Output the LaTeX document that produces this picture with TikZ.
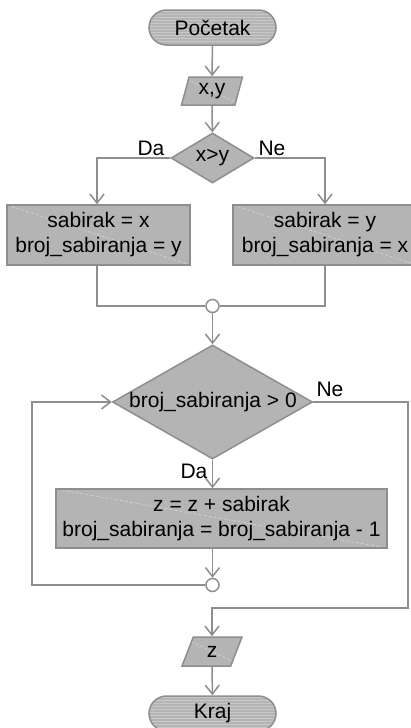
\documentclass[tikz,border=0pt]{standalone}
\usepackage{fontspec}
\setmainfont{Liberation Sans}
\usetikzlibrary{shapes.geometric,arrows.meta,calc}
\definecolor{boxfill}{HTML}{B4B4B4}
\definecolor{edge}{HTML}{8E8E8E}
\definecolor{stripe}{HTML}{C8C8C8}

\begin{document}
\begin{tikzpicture}[x=1pt,y=-1pt,
  font=\fontsize{21}{25}\selectfont,
  base/.style={draw=edge, fill=boxfill, line width=1.5pt, inner sep=0pt, text=black},
  diag/.style={path picture={\draw[white,opacity=0.45,line width=0.6pt,dash pattern=on 3pt off 2pt]
      (path picture bounding box.north west) -- (path picture bounding box.south east);}},
  stripes/.style={path picture={\foreach \k in {1,4,...,40}{\draw[stripe,line width=0.9pt]
      ([yshift=-\k pt]path picture bounding box.north west) -- ([yshift=-\k pt]path picture bounding box.north east);}}},
  term/.style={base, rectangle, rounded corners=17.5pt, stripes, minimum width=127pt, minimum height=35pt},
  io/.style={base, trapezium, trapezium left angle=74, trapezium right angle=106,
      trapezium stretches=true, diag},
  process/.style={base, rectangle, align=center, diag},
  decision/.style={base, diamond},
  junc/.style={circle, draw=edge, fill=white, line width=1.5pt, minimum size=13pt, inner sep=0pt},
  lbl/.style={text=black},
  line/.style={draw=edge, line width=1.5pt},
  flow/.style={line, -{Straight Barb[length=9pt,width=14pt,line width=1.5pt]}}
]
\useasboundingbox (0,0) rectangle (411,728);

% blocks
\node[term] (start) at (212.5,27.5) {Početak};
\node[io, minimum width=61pt, minimum height=28pt] (in) at (212,91) {x,y};
\node[decision, minimum width=83pt, minimum height=50pt] (cmp) at (212.5,158) {};
\node (cmptxt) at (212.5,158) {x>y};
\node[process, minimum width=183pt, minimum height=60pt] (yes1) at (98.5,235)
  {sabirak = x\\broj\_sabiranja = y};
\node[process, minimum width=184pt, minimum height=60pt] (no1) at (325,235)
  {sabirak = y\\broj\_sabiranja = x};
\node[junc] (j1) at (212.5,306) {};
\node[decision, minimum width=200pt, minimum height=114pt] (loop) at (212.5,402) {};
\node (looptxt) at (213,402) {broj\_sabiranja > 0};
\node[process, minimum width=331pt, minimum height=59pt] (body) at (221.5,518.5)
  {z = z + sabirak\\broj\_sabiranja = broj\_sabiranja - 1};
\node[junc] (j2) at (212.5,585) {};
\node[io, minimum width=60pt, minimum height=29pt] (out) at (212,651.5) {z};
\node[term] (stop) at (212.5,713.5) {Kraj};

% branch labels
\node[lbl] (lda1) at (151,148) {Da};
\node[lbl] (lne1) at (272,148) {Ne};
\node[lbl] (lne2) at (330,389) {Ne};
\node[lbl] (lda2) at (194,471) {Da};

% helper corners of the loop
\coordinate (back) at (32,585);
\coordinate (exitr) at (408,608);

% connectors
\draw[flow] (start) -- (in);
\draw[flow] (in) -- (cmp);
\draw[flow] (cmp.west) -| ([xshift=-1.5pt]yes1.north);
\draw[flow] (cmp.east) -| (no1.north);
\draw[line] ([xshift=-1.5pt]yes1.south) |- (j1.west);
\draw[line] (no1.south) |- (j1.east);
\draw[flow] (j1) -- (loop.north);
\draw[flow] (loop.south) -- (loop.south |- body.north);
\draw[flow] (j2 |- body.south) -- (j2.north);
\draw[flow] (j2.west) -- (back) |- (loop.west);
\draw[flow] (loop.east) -| (exitr) -| (out.north);
\draw[flow] (out) -- (stop);
\end{tikzpicture}
\end{document}
